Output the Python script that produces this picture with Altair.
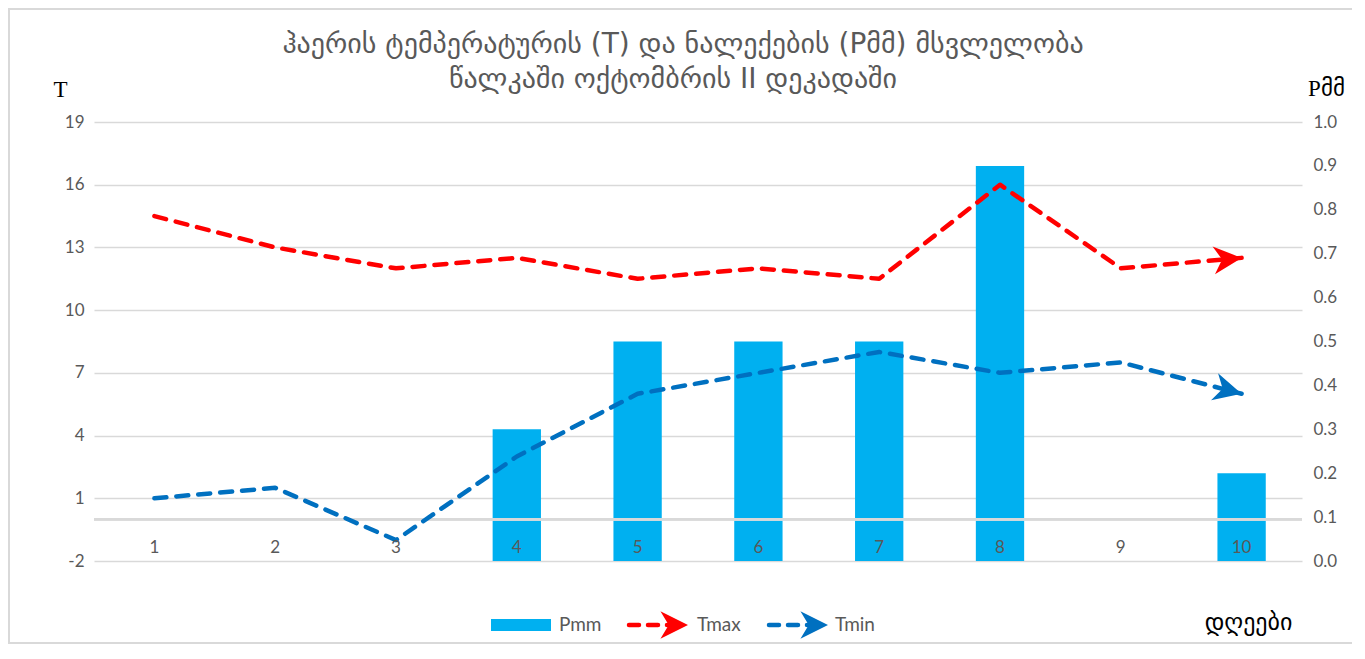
import math
import altair as alt
import pandas as pd

days = [1, 2, 3, 4, 5, 6, 7, 8, 9, 10]
pmm = [0, 0, 0, 0.3, 0.5, 0.5, 0.5, 0.9, 0, 0.2]
tmax = [14.5, 13, 12, 12.5, 11.5, 12, 11.5, 16, 12, 12.5]
tmin = [1, 1.5, -1, 3, 6, 7, 8, 7, 7.5, 6]
t_ticks = [-2, 1, 4, 7, 10, 13, 16, 19]
p_ticks = [0.0, 0.1, 0.2, 0.3, 0.4, 0.5, 0.6, 0.7, 0.8, 0.9, 1.0]

title_lines = ["ჰაერის ტემპერატურის (T) და ნალექების (Pმმ) მსვლელობა",
               "წალკაში ოქტომბრის II დეკადაში"]

W, H = 1208, 439
GRAY = "#595959"
GEO = "DejaVu Sans"
NUM = "Lato"

df = pd.DataFrame({"day": days, "Pmm": pmm, "Tmax": tmax, "Tmin": tmin})
last = df.iloc[[-1]]
prev = df.iloc[-2]

# arrow head rotation derived from the last segment (pixel scale ratios)
px_t = H / (t_ticks[-1] - t_ticks[0])
step = W / len(days)
def ang(series):
    dy = -(df[series].iloc[-1] - prev[series]) * px_t
    a = math.degrees(math.atan2(dy, step))
    return a % 360

ARROW = "M -2 -1 L 0 0 L -2 1 L -1.4 0 Z"

xs = alt.Scale(paddingInner=0.6, paddingOuter=0.3)
x_enc = alt.X("day:O", scale=xs, sort=days,
              axis=alt.Axis(title="დღეები", labelAngle=0, domain=False, ticks=False,
                            grid=False, labelColor=GRAY, labelFontSize=17, labelFont=NUM,
                            labelBaseline="middle", labelPadding=-14, zindex=1,
                            titleFont=GEO, titleFontSize=24, titleFontWeight="normal",
                            titleColor="#000000", titleX=1154, titleY=61,
                            titleAlign="center", titleBaseline="middle"))

tscale = alt.Scale(domain=[t_ticks[0], t_ticks[-1]], nice=False, zero=False)
pscale = alt.Scale(domain=[0, 1], nice=False)

bars = alt.Chart(df).mark_bar(color="#00B0F0").encode(
    x=x_enc,
    y=alt.Y("Pmm:Q", scale=pscale,
            axis=alt.Axis(orient="right", values=p_ticks, format=".1f", grid=False,
                          domain=False, ticks=False, labelColor=GRAY, labelFontSize=17,
                          labelFont=NUM, labelPadding=11, title="Pმმ",
                          titleFont="Liberation Serif, DejaVu Sans", titleFontSize=23,
                          titleFontWeight="normal", titleColor="#000000", titleAngle=0,
                          titleX=24, titleY=-34, titleAlign="center",
                          titleBaseline="middle")),
)

t_axis = alt.Axis(orient="left", values=t_ticks, grid=True, gridColor="#D9D9D9",
                  gridWidth=1.5, domain=False, ticks=False, labelColor=GRAY,
                  labelFontSize=17, labelFont=NUM, labelPadding=10, title="T",
                  labelExpr="'' + datum.value",
                  titleFont="Liberation Serif", titleFontSize=23, titleFontWeight="normal",
                  titleColor="#000000", titleAngle=0, titleX=-34, titleY=-33,
                  titleAlign="center", titleBaseline="middle")

base = alt.Chart(df)
zero_rule = base.mark_rule(color="#D9D9D9", strokeWidth=2).encode(
    y=alt.datum(0, scale=tscale, axis=t_axis))

def tline(series, color):
    ln = base.mark_line(color=color, strokeWidth=4.5, strokeDash=[12, 10],
                        strokeCap="round", strokeJoin="round").encode(
        x=alt.X("day:O", sort=days), y=alt.Y(f"{series}:Q", scale=tscale, axis=t_axis))
    hd = alt.Chart(last).mark_point(shape=ARROW, filled=True, color=color, opacity=1,
                                    size=780, angle=ang(series)).encode(
        x=alt.X("day:O", sort=days), y=alt.Y(f"{series}:Q", scale=tscale, axis=t_axis))
    return ln + hd

one = pd.DataFrame({"k": [0]})
lg = alt.Chart(one)
LY = 503
legend = alt.layer(
    lg.mark_rect(color="#00B0F0").encode(x=alt.value(397), x2=alt.value(457),
                                         y=alt.value(LY - 6), y2=alt.value(LY + 6)),
    lg.mark_text(text="Pmm", align="left", baseline="middle", fontSize=19, font=NUM,
                 color=GRAY).encode(x=alt.value(465), y=alt.value(LY)),
    lg.mark_rule(color="#FF0000", strokeWidth=4.5, strokeDash=[10, 9], strokeCap="round").encode(
        x=alt.value(535), x2=alt.value(580), y=alt.value(LY)),
    lg.mark_point(shape=ARROW, filled=True, color="#FF0000", opacity=1, size=760).encode(
        x=alt.value(594), y=alt.value(LY)),
    lg.mark_text(text="Tmax", align="left", baseline="middle", fontSize=19, font=NUM,
                 color=GRAY).encode(x=alt.value(603), y=alt.value(LY)),
    lg.mark_rule(color="#0070C0", strokeWidth=4.5, strokeDash=[10, 9], strokeCap="round").encode(
        x=alt.value(675), x2=alt.value(720), y=alt.value(LY)),
    lg.mark_point(shape=ARROW, filled=True, color="#0070C0", opacity=1, size=760).encode(
        x=alt.value(734), y=alt.value(LY)),
    lg.mark_text(text="Tmin", align="left", baseline="middle", fontSize=19, font=NUM,
                 color=GRAY).encode(x=alt.value(741), y=alt.value(LY)),
)

title = alt.layer(
    lg.mark_text(text=title_lines[0], font=GEO, fontSize=28, color=GRAY,
                 align="center", baseline="middle").encode(
        x=alt.value(W / 2 - 15), y=alt.value(-77)),
    lg.mark_text(text=title_lines[1], font=GEO, fontSize=28, color=GRAY,
                 align="center", baseline="middle").encode(
        x=alt.value(W / 2 - 25), y=alt.value(-42)),
)

border = lg.mark_rect(fill=None, stroke="#D9D9D9", strokeWidth=2).encode(
    x=alt.value(-85), x2=alt.value(1263), y=alt.value(-113), y2=alt.value(521))

tlayer = alt.layer(zero_rule, tline("Tmax", "#FF0000"), tline("Tmin", "#0070C0"),
                   legend, title, border)

chart = alt.layer(bars, tlayer).resolve_scale(y="independent").properties(
    width=W, height=H,
    autosize=alt.AutoSizeParams(type="none"),
    padding={"left": 86, "top": 114, "right": 50, "bottom": 84},
).configure_view(stroke=None)

chart.save("out.html", embed_options={"renderer": "svg", "actions": False})
